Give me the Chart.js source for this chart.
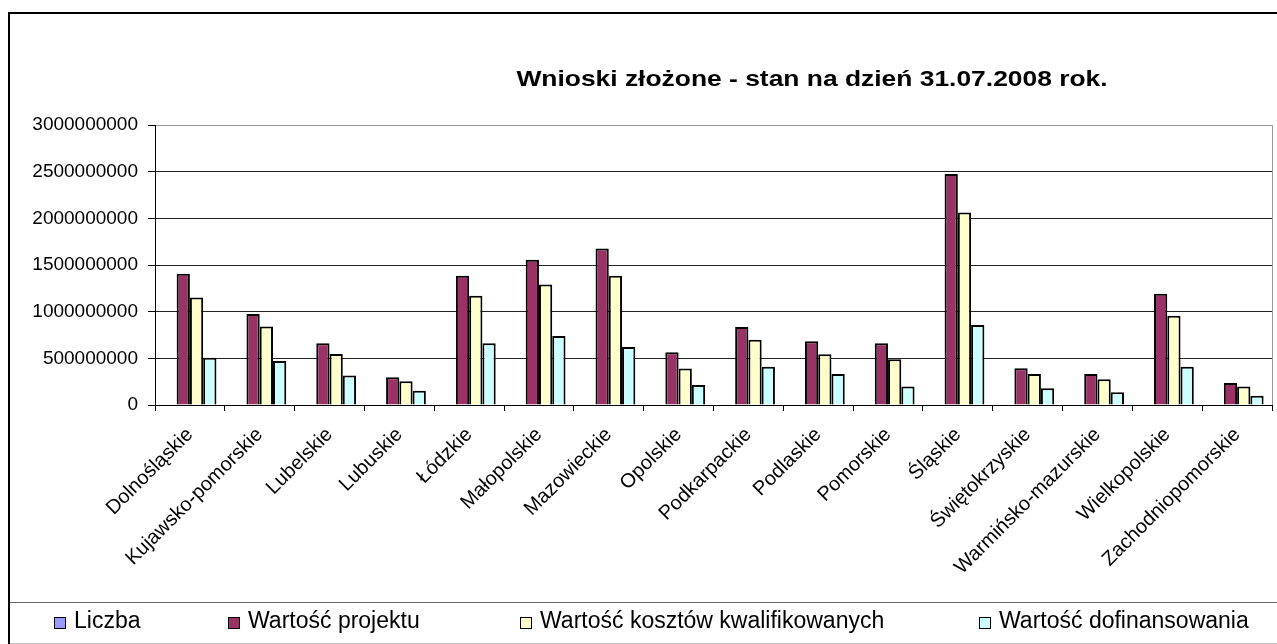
<!DOCTYPE html>
<html><head><meta charset="utf-8">
<script src="https://cdn.jsdelivr.net/npm/chart.js@4.4.0/dist/chart.umd.min.js"></script>
<style>
html,body{margin:0;padding:0;background:#fff;overflow:hidden;}
#wrap{position:relative;width:1277px;height:644px;overflow:hidden;}
#frame{position:absolute;left:8px;top:12px;width:1330px;height:680px;border:2px solid #000;box-sizing:border-box;}
#legbox{position:absolute;left:10px;top:602px;width:1320px;height:40px;border-top:1px solid #666;border-bottom:1px solid #c0c0c0;}
canvas{position:absolute;left:0;top:0;}
.lbox{position:absolute;top:617px;width:10px;height:10px;border:1px solid #000;}
.ltxt{position:absolute;top:609px;height:23px;line-height:23px;font-family:"Liberation Sans",Arial,sans-serif;font-size:23px;color:#000;white-space:nowrap;}
</style>
</head><body>
<div id="wrap">
<div id="frame"></div>
<canvas id="c" width="1277" height="644"></canvas>
<div id="legbox"></div>
<div id="legend"></div>
</div>
<script>
const chartTitle = 'Wnioski złożone - stan na dzień 31.07.2008 rok.';
const categories = ['Dolnośląskie','Kujawsko-pomorskie','Lubelskie','Lubuskie','Łódzkie','Małopolskie','Mazowieckie','Opolskie','Podkarpackie','Podlaskie','Pomorskie','Śląskie','Świętokrzyskie','Warmińsko-mazurskie','Wielkopolskie','Zachodniopomorskie'];
const seriesNames = ['Liczba','Wartość projektu','Wartość kosztów kwalifikowanych','Wartość dofinansowania'];
const liczba = [0,0,0,0,0,0,0,0,0,0,0,0,0,0,0,0];
const wartoscProjektu = [1405e6,976e6,662e6,297e6,1384e6,1556e6,1677e6,565e6,837e6,683e6,662e6,2475e6,394e6,333e6,1191e6,236e6];
const wartoscKosztow = [1151e6,840e6,547e6,254e6,1170e6,1291e6,1384e6,390e6,700e6,544e6,490e6,2063e6,333e6,276e6,955e6,197e6];
const wartoscDofinansowania = [505e6,472e6,315e6,154e6,662e6,740e6,622e6,215e6,411e6,333e6,197e6,858e6,179e6,136e6,411e6,100e6];
const yTickLabels = [0,500000000,1000000000,1500000000,2000000000,2500000000,3000000000];
const seriesColors = ['#9999FF','#993366','#FFFFCC','#CCFFFF'];

const FONT = '"Liberation Sans", Arial, sans-serif';

const extras = {
  id:'extras',
  afterDraw(chart){
    const {ctx, chartArea:a} = chart;
    ctx.save();
    ctx.strokeStyle = '#999';
    ctx.lineWidth = 1;
    ctx.beginPath();
    ctx.moveTo(a.right+0.5, a.top);
    ctx.lineTo(a.right+0.5, a.bottom);
    ctx.stroke();
    ctx.fillStyle = '#000';
    ctx.font = 'bold 22px ' + FONT;
    ctx.textAlign = 'center';
    ctx.textBaseline = 'alphabetic';
    ctx.translate(812, 86);
    ctx.scale(1.2, 1);
    ctx.fillText(chartTitle, 0, 0);
    ctx.restore();
  }
};

const datasets = [liczba, wartoscProjektu, wartoscKosztow, wartoscDofinansowania].map((d,i)=>({
  label: seriesNames[i], data: d, backgroundColor: seriesColors[i], borderColor:'#000', borderWidth:2
}));

new Chart(document.getElementById('c'), {
  type:'bar',
  data:{labels:categories, datasets},
  options:{
    responsive:false, animation:false, devicePixelRatio:1,
    layout:{padding:{top:125,right:5,bottom:44,left:0}},
    plugins:{legend:{display:false},title:{display:false},tooltip:{enabled:false}},
    datasets:{bar:{categoryPercentage:0.76,barPercentage:1}},
    scales:{
      x:{
        offset:true,
        grid:{offset:true,drawOnChartArea:false,color:'#000',tickLength:6},
        border:{color:'#000',width:1},
        ticks:{autoSkip:false,minRotation:45,maxRotation:45,color:'#000',font:{family:FONT,size:20},padding:12},
        afterFit(s){s.height=195;}
      },
      y:{
        min:0,max:3000000000,
        afterBuildTicks(s){s.ticks = yTickLabels.map(v=>({value:v}));},
        ticks:{color:'#000',font:{family:FONT,size:19},padding:10,callback:v=>String(v)},
        grid:{color:c=>(c.tick && c.tick.value===3000000000)?'#999':'#222',tickColor:'#000',tickLength:7},
        border:{color:'#000',width:1},
        afterFit(s){s.width=155;}
      }
    }
  },
  plugins:[extras]
});

const legendLefts = [54,228,520,979];
const leg = document.getElementById('legend');
seriesNames.forEach((n,i)=>{
  const b=document.createElement('div'); b.className='lbox'; b.style.left=legendLefts[i]+'px'; b.style.background=seriesColors[i]; leg.appendChild(b);
  const t=document.createElement('div'); t.className='ltxt'; t.style.left=(legendLefts[i]+20)+'px'; t.textContent=n; leg.appendChild(t);
});
</script>
</body></html>
